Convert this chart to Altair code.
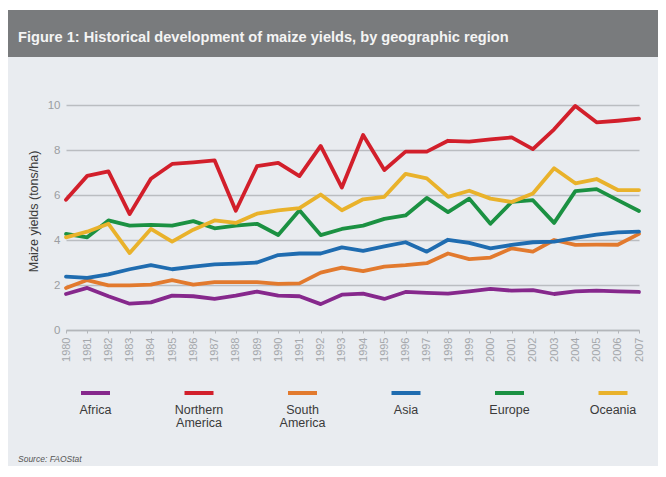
import altair as alt
import pandas as pd

years = list(range(1980, 2008))

africa = [1.60, 1.87, 1.50, 1.17, 1.23, 1.53, 1.50, 1.38, 1.53, 1.71, 1.53, 1.50, 1.15, 1.57,
          1.62, 1.38, 1.69, 1.65, 1.62, 1.72, 1.83, 1.75, 1.77, 1.60, 1.72, 1.75, 1.72, 1.69]
northern_america = [5.79, 6.85, 7.05, 5.15, 6.72, 7.38, 7.45, 7.54, 5.30, 7.28, 7.43, 6.84, 8.18, 6.33,
                    8.67, 7.11, 7.93, 7.93, 8.41, 8.37, 8.47, 8.56, 8.04, 8.92, 9.96, 9.23, 9.30, 9.39]
south_america = [1.87, 2.22, 1.98, 1.98, 2.02, 2.22, 2.02, 2.13, 2.13, 2.13, 2.05, 2.07, 2.55, 2.77,
                 2.62, 2.82, 2.88, 2.97, 3.40, 3.15, 3.22, 3.63, 3.48, 4.00, 3.78, 3.79, 3.79, 4.27]
asia = [2.37, 2.32, 2.47, 2.70, 2.88, 2.70, 2.82, 2.92, 2.95, 3.00, 3.33, 3.40, 3.40, 3.67,
        3.52, 3.72, 3.90, 3.48, 4.01, 3.87, 3.63, 3.78, 3.90, 3.93, 4.09, 4.24, 4.34, 4.37]
europe = [4.27, 4.12, 4.87, 4.64, 4.67, 4.64, 4.84, 4.52, 4.64, 4.72, 4.22, 5.32, 4.22, 4.49,
          4.64, 4.94, 5.09, 5.87, 5.24, 5.84, 4.72, 5.69, 5.77, 4.76, 6.17, 6.26, 5.77, 5.29]
oceania = [4.12, 4.37, 4.72, 3.42, 4.49, 3.93, 4.46, 4.87, 4.76, 5.17, 5.32, 5.42, 6.02, 5.32,
           5.81, 5.92, 6.94, 6.74, 5.92, 6.19, 5.84, 5.69, 6.07, 7.19, 6.52, 6.71, 6.22, 6.22]

regions = ["Africa", "Northern America", "South America", "Asia", "Europe", "Oceania"]
legend_labels = ["Africa", "Northern\nAmerica", "South\nAmerica", "Asia", "Europe", "Oceania"]
colors = ["#86288c", "#d21f2b", "#e27a2e", "#1f6cb0", "#1b9142", "#e9b22b"]
series = [africa, northern_america, south_america, asia, europe, oceania]
y_ticks = [0, 2, 4, 6, 8, 10]

title_text = "Figure 1: Historical development of maize yields, by geographic region"
source_text = "Source: FAOStat"

rows = []
for name, vals in zip(regions, series):
    for yr, v in zip(years, vals):
        rows.append({"year": yr, "region": name, "yield": v})
df = pd.DataFrame(rows)

W, H = 573, 225
PAD_L, PAD_T = 58, 97
TOTAL_W, TOTAL_H = 650, 458
PAD_R = TOTAL_W - PAD_L - W
PAD_B = TOTAL_H - PAD_T - H

one = pd.DataFrame({"a": [0]})

lines = alt.Chart(df).mark_line(strokeWidth=3.8, strokeJoin="round", strokeCap="round").encode(
    x=alt.X("year:Q",
            scale=alt.Scale(domain=[1980, 2007], nice=False, zero=False),
            axis=alt.Axis(values=years, format="d", labelAngle=270, grid=False,
                          domainColor="#b3b6ba", domainWidth=1.5, tickColor="#b3b6ba",
                          tickSize=3, tickWidth=1, labelColor="#a4a7ab", labelFontSize=11,
                          labelFont="Liberation Sans", labelPadding=4, title=None)),
    y=alt.Y("yield:Q",
            scale=alt.Scale(domain=[0, 10], nice=False),
            axis=alt.Axis(values=y_ticks, grid=True, gridColor="#babdc1", gridWidth=1.5,
                          domain=False, ticks=False, labelColor="#9b9ea2", labelFontSize=11.5,
                          labelFont="Liberation Sans", labelPadding=6,
                          title="Maize yields (tons/ha)", titleColor="#3c3c3c",
                          titleFont="Liberation Sans", titleFontSize=12.5, titleFontWeight="normal",
                          titleAngle=-90, titleX=-33, titleY=106, titleAlign="center",
                          titleBaseline="middle")),
    color=alt.Color("region:N", scale=alt.Scale(domain=regions, range=colors), legend=None),
)

layers = []
# top white strip and grey title bar
layers.append(alt.Chart(one).mark_rect(color="#ffffff").encode(
    x=alt.value(-PAD_L - 2), x2=alt.value(W + PAD_R + 2),
    y=alt.value(-PAD_T - 2), y2=alt.value(-PAD_T + 2)))
layers.append(alt.Chart(one).mark_rect(color="#797b7d").encode(
    x=alt.value(-PAD_L - 1), x2=alt.value(W + PAD_R + 2),
    y=alt.value(-PAD_T + 2), y2=alt.value(-PAD_T + 49)))
layers.append(alt.Chart(one).mark_text(
    text=title_text, align="left", baseline="middle", fontSize=14.6, fontWeight="bold",
    font="Liberation Sans", color="#f4f4f4").encode(
    x=alt.value(-48), y=alt.value(-67)))

layers.append(lines)

# legend
for i, (lab, col) in enumerate(zip(legend_labels, colors)):
    cx = 29.5 + 103.5 * i
    layers.append(alt.Chart(one).mark_rule(color=col, strokeWidth=4).encode(
        x=alt.value(cx - 14.5), x2=alt.value(cx + 14.5), y=alt.value(288)))
    layers.append(alt.Chart(one).mark_text(
        text=lab, lineBreak="\n", align="center", baseline="top", fontSize=12.5, lineHeight=12.5,
        font="Liberation Sans", color="#3a3a3a").encode(
        x=alt.value(cx), y=alt.value(299)))

layers.append(alt.Chart(one).mark_text(
    text=source_text, align="left", baseline="middle", fontSize=8.5, fontStyle="italic",
    font="Liberation Sans", color="#555555").encode(
    x=alt.value(-48), y=alt.value(354)))

chart = alt.layer(*layers).properties(
    width=W, height=H,
    autosize=alt.AutoSizeParams(type="none"),
    padding={"left": PAD_L, "top": PAD_T, "right": PAD_R, "bottom": PAD_B},
    background="#e9ecf0",
).configure_view(stroke=None)

chart.save("out.html", embed_options={"renderer": "svg", "actions": False})
